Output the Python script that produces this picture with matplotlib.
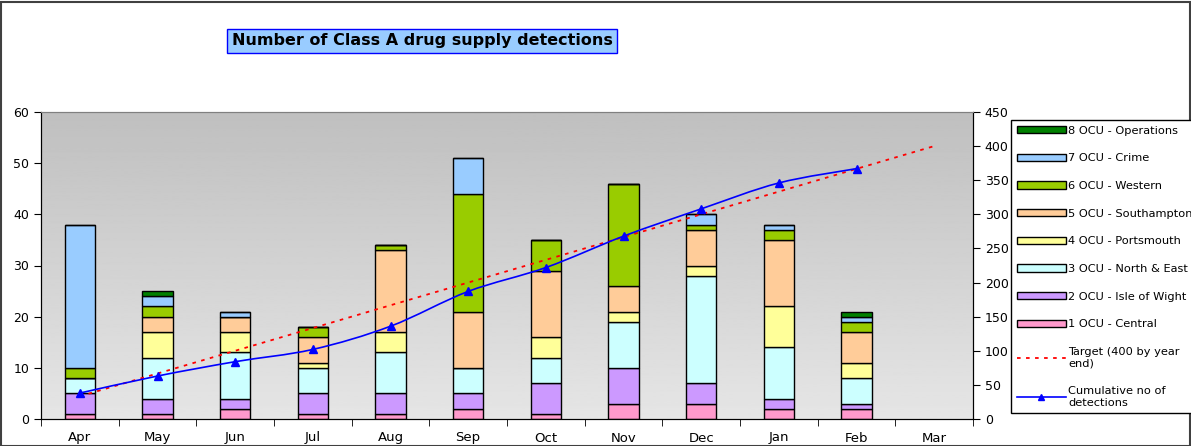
import numpy as np
import matplotlib
matplotlib.use('Agg')
import matplotlib.pyplot as plt
from matplotlib.patches import Rectangle, Patch
from matplotlib.lines import Line2D
from matplotlib.path import Path
from matplotlib.patches import PathPatch

months = ['Apr', 'May', 'Jun', 'Jul', 'Aug', 'Sep', 'Oct', 'Nov', 'Dec', 'Jan', 'Feb', 'Mar']

# detections per OCU per month (Mar not yet reported)
central     = [1, 1, 2, 1, 1, 2, 1, 3, 3, 2, 2]
isle_wight  = [4, 3, 2, 4, 4, 3, 6, 7, 4, 2, 1]
north_east  = [3, 8, 9, 5, 8, 5, 5, 9, 21, 10, 5]
portsmouth  = [0, 5, 4, 1, 4, 0, 4, 2, 2, 8, 3]
southampton = [0, 3, 3, 5, 16, 11, 13, 5, 7, 13, 6]
western     = [2, 2, 0, 2, 1, 23, 6, 20, 1, 2, 2]
crime       = [28, 2, 1, 0, 0, 7, 0, 0, 2, 1, 1]
operations  = [0, 1, 0, 0, 0, 0, 0, 0, 0, 0, 1]

cumulative = [38, 63, 84, 102, 136, 187, 222, 268, 308, 346, 367]
target = [33.3, 66.7, 100, 133.3, 166.7, 200, 233.3, 266.7, 300, 333.3, 366.7, 400]

series = [
    ('1 OCU - Central', central, '#ff99cc'),
    ('2 OCU - Isle of Wight', isle_wight, '#cc99ff'),
    ('3 OCU - North & East', north_east, '#ccffff'),
    ('4 OCU - Portsmouth', portsmouth, '#ffff99'),
    ('5 OCU - Southampton', southampton, '#ffcc99'),
    ('6 OCU - Western', western, '#99cc00'),
    ('7 OCU - Crime', crime, '#99ccff'),
    ('8 OCU - Operations', operations, '#008000'),
]

plt.rcParams['font.family'] = ['DejaVu Sans']

fig = plt.figure(figsize=(11.91, 4.46), dpi=100)
fig.patches.append(Rectangle((0.001, 0.001), 0.998, 0.994, transform=fig.transFigure,
                             fill=False, edgecolor='#404040', linewidth=1.5))

ax = fig.add_axes([41 / 1191, 27 / 446, 932 / 1191, 307 / 446])

# grey gradient behind the plot area
grad = np.linspace(0.90, 0.75, 256).reshape(-1, 1)
ax.imshow(grad, cmap='gray', vmin=0, vmax=1, aspect='auto', origin='lower',
          extent=(0, 1, 0, 1), transform=ax.transAxes, zorder=0)

x = np.arange(len(central))
bottom = np.zeros(len(central))
handles = []
for name, vals, col in series:
    vals = np.array(vals)
    ax.bar(x, vals, width=0.39, bottom=bottom, color=col, edgecolor='black',
           linewidth=1.0, zorder=2)
    bottom += vals
    handles.append(Patch(facecolor=col, edgecolor='black', linewidth=1.0, label=name))

ax.set_xlim(-0.5, 11.5)
ax.set_ylim(0, 60)
ax.set_yticks(range(0, 61, 10))
ax.set_xticks(np.arange(len(months)))
ax.set_xticklabels(months, fontsize=9.5)
ax.set_xticks(np.arange(-0.5, 12, 1), minor=True)
ax.tick_params(axis='x', which='major', length=0, pad=9)
ax.tick_params(axis='x', which='minor', length=5, direction='out')
ax.tick_params(axis='y', labelsize=9, length=5)
ax.spines['top'].set_color('#808080')

ax2 = ax.twinx()
ax2.set_ylim(0, 450)
ax2.set_yticks(range(0, 451, 50))
ax2.tick_params(axis='y', labelsize=9, length=5)
ax2.spines['top'].set_color('#808080')

tx = np.arange(len(target))
ax2.plot(tx, target, color='red', linestyle=(0, (2, 3)), linewidth=1.3, zorder=3)

# smoothed cumulative line drawn as cubic Bezier segments
cx = np.arange(len(cumulative), dtype=float)
cy = np.array(cumulative, dtype=float)
verts = [(cx[0], cy[0])]
codes = [Path.MOVETO]
for i in range(len(cx) - 1):
    p0 = (cx[max(i - 1, 0)], cy[max(i - 1, 0)])
    p1 = (cx[i], cy[i])
    p2 = (cx[i + 1], cy[i + 1])
    p3 = (cx[min(i + 2, len(cx) - 1)], cy[min(i + 2, len(cx) - 1)])
    c1 = (p1[0] + (p2[0] - p0[0]) / 6, p1[1] + (p2[1] - p0[1]) / 6)
    c2 = (p2[0] - (p3[0] - p1[0]) / 6, p2[1] - (p3[1] - p1[1]) / 6)
    verts += [c1, c2, p2]
    codes += [Path.CURVE4] * 3
ax2.add_patch(PathPatch(Path(verts, codes), fill=False, edgecolor='blue',
                        linewidth=1.2, zorder=4))
ax2.plot(cx, cy, linestyle='none', marker='^', color='blue', markersize=6, zorder=5)

handles = handles[::-1]
handles.append(Line2D([], [], color='red', linestyle=(0, (2, 3)), linewidth=1.3,
                      label='Target (400 by year\nend)'))
handles.append(Line2D([], [], color='blue', marker='^', markersize=5, linewidth=1.2,
                      label='Cumulative no of\ndetections'))
leg = fig.legend(handles=handles, loc='upper left',
                 bbox_to_anchor=(1011 / 1191, 1 - 120 / 446), fontsize=8.2,
                 frameon=True, fancybox=False, edgecolor='black', framealpha=1,
                 handlelength=4.3, handleheight=0.6, labelspacing=1.55,
                 handletextpad=0.2, borderaxespad=0, borderpad=0.5)
leg.get_frame().set_linewidth(1.0)

fig.text(422 / 1191, 1 - 41 / 446, 'Number of Class A drug supply detections',
         ha='center', va='center', fontsize=11.5, fontweight='bold',
         bbox=dict(boxstyle='square,pad=0.3', facecolor='#99ccff', edgecolor='blue',
                   linewidth=1.0))

fig.savefig('out.png', dpi=100)
